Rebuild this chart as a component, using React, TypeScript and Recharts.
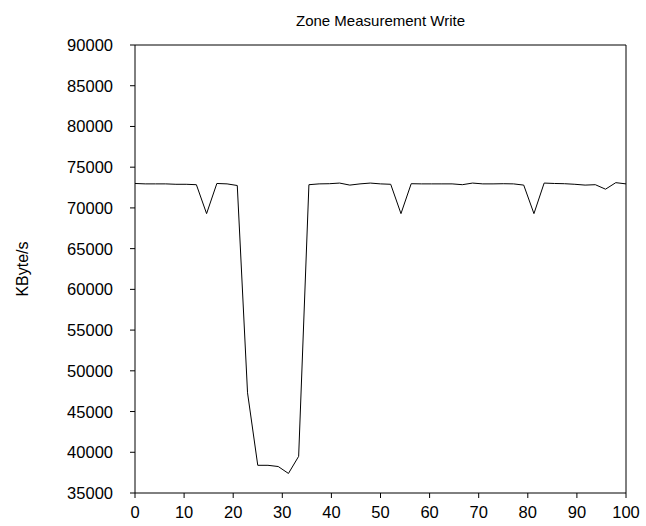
import { Line, LineChart, ReferenceLine, XAxis, YAxis } from "recharts";

const zoneX = [
  0, 2.08, 4.17, 6.25, 8.33, 10.42, 12.5, 14.58, 16.67, 18.75, 20.83, 22.92,
  25, 27.08, 29.17, 31.25, 33.33, 35.42, 37.5, 39.58, 41.67, 43.75, 45.83,
  47.92, 50, 52.08, 54.17, 56.25, 58.33, 60.42, 62.5, 64.58, 66.67, 68.75,
  70.83, 72.92, 75, 77.08, 79.17, 81.25, 83.33, 85.42, 87.5, 89.58, 91.67,
  93.75, 95.83, 97.92, 100,
];

const writeKBs = [
  73000, 72950, 72950, 72950, 72900, 72900, 72850, 69300, 73000, 72950, 72750,
  47300, 38400, 38400, 38250, 37400, 39500, 72850, 72950, 72970, 73050, 72800,
  72950, 73050, 72950, 72900, 69300, 72970, 72950, 72950, 72950, 72950, 72850,
  73050, 72950, 72950, 72970, 72950, 72800, 69300, 73050, 73000, 72970, 72900,
  72800, 72850, 72300, 73100, 72950,
];

const xTicks = [0, 10, 20, 30, 40, 50, 60, 70, 80, 90, 100];
const yTicks = [
  35000, 40000, 45000, 50000, 55000, 60000, 65000, 70000, 75000, 80000, 85000,
  90000,
];

const data = zoneX.map((x, i) => ({ x, kbs: writeKBs[i] }));

const font = "'Liberation Sans', Arial, Helvetica, sans-serif";
const ink = "#000";

// axis labels drawn by hand so the gap to the tick marks matches
const XTick = (p: any) => (
  <text
    x={p.x}
    y={p.y + 6}
    textAnchor="middle"
    dominantBaseline="hanging"
    fill={ink}
    fontSize={16.5}
    fontFamily={font}
  >
    {p.payload.value}
  </text>
);

const YTick = (p: any) => (
  <text
    x={113}
    y={p.y}
    textAnchor="end"
    dominantBaseline="central"
    fill={ink}
    fontSize={16.5}
    fontFamily={font}
  >
    {p.payload.value}
  </text>
);

export default function App() {
  return (
    <div
      style={{
        position: "absolute",
        left: 0,
        top: 0,
        width: 646,
        height: 526,
        background: "#fff",
        fontFamily: font,
      }}
    >
      <div
        style={{
          position: "absolute",
          left: 135,
          width: 491,
          top: 12,
          textAlign: "center",
          fontSize: 15,
          color: ink,
        }}
      >
        Zone Measurement Write
      </div>
      <LineChart
        width={646}
        height={526}
        data={data}
        margin={{ top: 45, right: 20, bottom: 0, left: 0 }}
      >
        <XAxis
          dataKey="x"
          type="number"
          domain={[0, 100]}
          ticks={xTicks}
          height={33}
          tickSize={5}
          stroke={ink}
          tick={XTick}
        />
        <YAxis
          type="number"
          domain={[35000, 90000]}
          ticks={yTicks}
          width={135}
          tickSize={5}
          stroke={ink}
          tick={YTick}
          label={{
            value: "KByte/s",
            angle: -90,
            position: "insideLeft",
            offset: 22,
            style: { textAnchor: "middle", fill: ink, fontSize: 16, fontFamily: font },
          }}
        />
        <ReferenceLine y={90000} stroke={ink} />
        <ReferenceLine x={100} stroke={ink} />
        <Line
          dataKey="kbs"
          type="linear"
          stroke={ink}
          strokeWidth={1}
          dot={false}
          isAnimationActive={false}
        />
      </LineChart>
    </div>
  );
}
